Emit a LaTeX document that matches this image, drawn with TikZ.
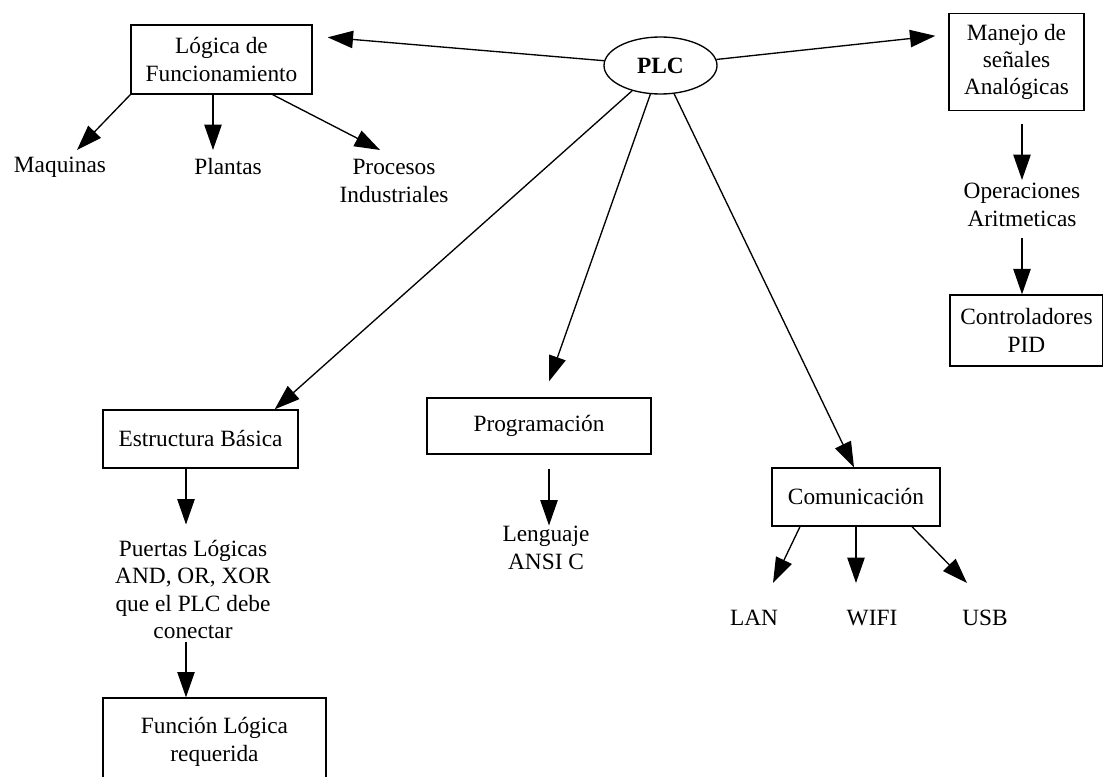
\documentclass[tikz,border=0pt]{standalone}
\usepackage{fontspec}
\setmainfont{Liberation Serif}
\usetikzlibrary{arrows.meta,shapes.geometric,calc}
\tikzset{
  box/.style={draw, line width=1pt, inner sep=0pt, align=center},
  txt/.style={inner sep=0pt, align=center},
  arr/.style={-{Triangle[length=19pt, width=13pt]}, line width=1pt},
}

\begin{document}
\begin{tikzpicture}[x=0.75pt, y=-0.75pt, font=\fontsize{17.5}{20.5}\selectfont]
  \useasboundingbox (0,0) rectangle (1103,777);
  % centre
  \node[box, ellipse, minimum width=84.75pt, minimum height=42.75pt] (plc) at (660.5,65.5) {\bfseries PLC};
  % left branch
  \node[box, minimum width=135.75pt, minimum height=51.75pt] (logica) at (221.5,59.5) {Lógica de\\Funcionamiento};
  \node[txt] (maq) at (60,167) {Maquinas};
  \node[txt] (plantas) at (228,167) {Plantas};
  \node[txt] (proc) at (394,181) {Procesos\\Industriales};
  % right branch
  \node[box, minimum width=101.25pt, minimum height=72.75pt] (manejo) at (1016.5,62) {Manejo de\\señales\\Analógicas};
  \node[txt] (oper) at (1022,205) {Operaciones\\Aritmeticas};
  \node[box, minimum width=114.75pt, minimum height=53.25pt] (ctrl) at (1026.5,330.5) {Controladores\\PID};
  % lower branches
  \node[box, minimum width=146.25pt, minimum height=43.5pt] (estr) at (200.5,439) {Estructura Básica};
  \node[txt] (puertas) at (193,589.5) {Puertas Lógicas\\AND, OR, XOR\\que el PLC debe\\conectar};
  \node[box, minimum width=167.25pt, minimum height=66pt] (funcion) at (214.5,742) {Función Lógica\\requerida};
  \node[box, minimum width=168pt, minimum height=42pt] (prog) at (539,426) {Programación};
  \node[txt] (leng) at (546,548) {Lenguaje\\ANSI C};
  \node[box, minimum width=126pt, minimum height=43.5pt] (com) at (856,497) {Comunicación};
  \node[txt] (lan) at (754,618) {LAN};
  \node[txt] (wifi) at (872,618) {WIFI};
  \node[txt] (usb) at (985,618) {USB};

  % from PLC
  \draw[arr] (plc) -- ($(logica.north east)+(15,13)$);
  \draw[arr] (plc) -- ($(manejo.north west)+(-13,23)$);
  \draw[arr] (plc) -- ($(estr.north east)+(-24,0)$);
  \draw[arr] (plc) -- ($(prog.north)+(10,-16)$);
  \draw[arr] (plc) -- ($(com.north)+(-2,0)$);
  % Logica de Funcionamiento
  \draw[arr] (logica.south west) -- ($(maq.center)+(17,-17)$);
  \draw[arr] ($(logica.south)+(-8.5,0)$) -- ($(plantas.center)+(-15,-17)$);
  \draw[arr] ($(logica.south east)+(-40,0)$) -- ($(proc.center)+(-14,-31)$);
  % senales analogicas
  \draw[arr] ($(manejo.south)+(5.5,13)$) -- ($(oper.center)+(0,-25)$);
  \draw[arr] ($(oper.center)+(0,33)$) -- (ctrl.north -| oper);
  % estructura basica
  \draw[arr] ($(estr.south)+(-14.5,0)$) -- ($(puertas.center)+(-7,-65)$);
  \draw[arr] ($(puertas.center)+(-7,52)$) -- ($(funcion.north)+(-28.5,0)$);
  % programacion
  \draw[arr] ($(prog.south)+(10,14)$) -- ($(leng.center)+(3,-22.5)$);
  % comunicacion
  \draw[arr] ($(com.south)+(-56,0)$) -- ($(lan.center)+(19,-35)$);
  \draw[arr] (com.south) -- ($(wifi.center)+(-16,-35)$);
  \draw[arr] ($(com.south)+(56,0)$) -- ($(usb.center)+(-18,-35)$);
\end{tikzpicture}
\end{document}
